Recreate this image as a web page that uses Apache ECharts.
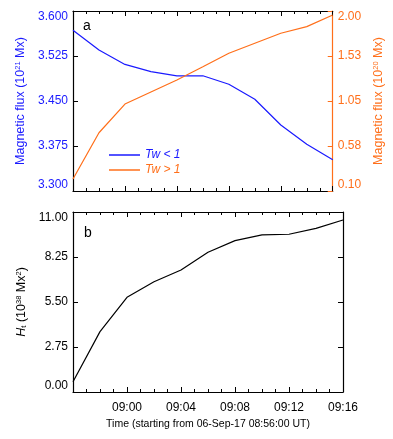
<!DOCTYPE html>
<html>
<head>
<meta charset="utf-8">
<script src="https://cdn.jsdelivr.net/npm/echarts@6/dist/echarts.min.js"></script>
<style>
  html, body { margin: 0; padding: 0; background: #fff; }
  #main { width: 393px; height: 439px; }
</style>
</head>
<body>
<div id="main"></div>
<script>
// time stamps of the samples
var times = ['08:56', '08:58', '09:00', '09:02', '09:04', '09:06', '09:08', '09:10', '09:12', '09:14', '09:16'];
// panel a : magnetic flux
var fluxTwLow = [3.568, 3.535, 3.511, 3.499, 3.492, 3.492, 3.478, 3.453, 3.410, 3.378, 3.352];   // 10^21 Mx
var fluxTwHigh = [0.227, 0.715, 1.018, 1.145, 1.272, 1.412, 1.554, 1.660, 1.765, 1.835, 1.958];  // 10^20 Mx
// panel b : helicity
var helicity = [0.63, 3.69, 5.79, 6.74, 7.46, 8.54, 9.25, 9.60, 9.64, 10.00, 10.51];
// tick values
var leftTicks = [3.300, 3.375, 3.450, 3.525, 3.600];
var rightTicks = [0.10, 0.575, 1.05, 1.525, 2.00];
var htTicks = [0.00, 2.75, 5.50, 8.25, 11.00];

var BLUE = '#1a1aff';
var ORANGE = '#ff6f1a';
var FONT = 'Liberation Sans';

function toMin(t) {
  var p = t.split(':');
  return (+p[0]) * 60 + (+p[1]) - (8 * 60 + 56);
}
function fmtTime(m) {
  var tot = 8 * 60 + 56 + m;
  var h = Math.floor(tot / 60), mm = tot % 60;
  return (h < 10 ? '0' : '') + h + ':' + (mm < 10 ? '0' : '') + mm;
}
function pairs(vals) {
  return times.map(function (t, i) { return [toMin(t), vals[i]]; });
}

function xAxisDef(grid, pos, labels, name) {
  return {
    type: 'value', gridIndex: grid, position: pos,
    min: 0, max: 20, interval: 4,
    axisLine: { show: true, onZero: false, lineStyle: { color: '#000', width: 1.2 } },
    axisTick: { show: true, inside: true, length: 5, lineStyle: { color: '#000' } },
    minorTick: { show: true, splitNumber: 4, length: 3, lineStyle: { color: '#000' } },
    splitLine: { show: false },
    axisLabel: {
      show: labels, margin: 10, fontFamily: FONT, fontSize: 12, color: '#000',
      formatter: function (v) { return v === 0 ? '' : fmtTime(v); }
    },
    name: name || '', nameLocation: 'middle', nameGap: 27,
    nameTextStyle: { fontFamily: FONT, fontSize: 10.5, color: '#000' }
  };
}

function yAxisDef(grid, pos, min, max, ticks, color, lineColor, labels, digits, name, gap, rich) {
  return {
    type: 'value', gridIndex: grid, position: pos,
    min: min, max: max,
    axisLine: { show: true, onZero: false, lineStyle: { color: lineColor, width: 1.2 } },
    axisTick: { show: true, inside: true, length: 5, customValues: ticks, lineStyle: { color: lineColor } },
    splitLine: { show: false },
    axisLabel: {
      show: labels, customValues: ticks, margin: 5, fontFamily: FONT, fontSize: 12, color: color,
      verticalAlignMaxLabel: 'top', verticalAlignMinLabel: 'bottom',
      formatter: function (v) { return (v + 1e-9).toFixed(digits); }
    },
    name: name || '', nameLocation: 'middle', nameRotate: 90, nameGap: gap || 0,
    nameTextStyle: { fontFamily: FONT, fontSize: 12.5, color: color, rich: rich }
  };
}

var richBlue = { sup: { fontFamily: FONT, fontSize: 7.5, color: BLUE, verticalAlign: 'top', lineHeight: 12 } };
var richOrange = { sup: { fontFamily: FONT, fontSize: 7.5, color: ORANGE, verticalAlign: 'top', lineHeight: 12 } };
var richBlack = {
  sup: { fontFamily: FONT, fontSize: 7.5, color: '#000', verticalAlign: 'top', lineHeight: 12 },
  sub: { fontFamily: FONT, fontSize: 8, color: '#000', verticalAlign: 'bottom', lineHeight: 12 },
  it: { fontFamily: FONT, fontSize: 12.5, color: '#000', fontStyle: 'italic' }
};

var chart = echarts.init(document.getElementById('main'), null, { renderer: 'canvas' });

var option = {
  backgroundColor: '#fff',
  animation: false,
  textStyle: { fontFamily: FONT },
  grid: [
    { left: 73, right: 51, top: 11, height: 180 },
    { left: 73, right: 50, top: 212, height: 180 }
  ],
  legend: {
    orient: 'vertical', left: 104, top: 144, itemWidth: 31, itemHeight: 1.5, itemGap: 3,
    icon: 'rect',
    textStyle: { fontFamily: FONT, fontSize: 12, fontStyle: 'italic' },
    data: [
      { name: 'Tw < 1', textStyle: { color: BLUE } },
      { name: 'Tw > 1', textStyle: { color: ORANGE } }
    ]
  },
  xAxis: [
    xAxisDef(0, 'bottom', false),
    xAxisDef(0, 'top', false),
    xAxisDef(1, 'bottom', true, 'Time (starting from 06-Sep-17 08:56:00 UT)'),
    xAxisDef(1, 'top', false)
  ],
  yAxis: [
    yAxisDef(0, 'left', 3.3, 3.6, leftTicks, BLUE, '#000', true, 3, 'Magnetic flux (10{sup|21} Mx)', 44, richBlue),
    yAxisDef(0, 'right', 0.1, 2.0, rightTicks, ORANGE, ORANGE, true, 2, 'Magnetic flux (10{sup|20} Mx)', 28, richOrange),
    yAxisDef(1, 'left', 0, 11, htTicks, '#000', '#000', true, 2, '{it|H}{sub|t} (10{sup|38} Mx{sup|2})', 44, richBlack),
    yAxisDef(1, 'right', 0, 11, htTicks, '#000', '#000', false, 2)
  ],
  graphic: [
    { type: 'text', left: 83, top: 19, style: { text: 'a', font: '14px Liberation Sans', fill: '#000' } },
    { type: 'text', left: 84, top: 226, style: { text: 'b', font: '14px Liberation Sans', fill: '#000' } }
  ],
  series: [
    {
      name: 'Tw < 1', type: 'line', xAxisIndex: 0, yAxisIndex: 0,
      data: pairs(fluxTwLow), symbol: 'none', color: BLUE,
      lineStyle: { width: 1.2, color: BLUE }
    },
    {
      name: 'Tw > 1', type: 'line', xAxisIndex: 0, yAxisIndex: 1,
      data: pairs(fluxTwHigh), symbol: 'none', color: ORANGE,
      lineStyle: { width: 1.2, color: ORANGE }
    },
    {
      name: 'Ht', type: 'line', xAxisIndex: 2, yAxisIndex: 2,
      data: pairs(helicity), symbol: 'none', color: '#000',
      lineStyle: { width: 1.2, color: '#000' }
    }
  ]
};
chart.setOption(option);
</script>
</body>
</html>
